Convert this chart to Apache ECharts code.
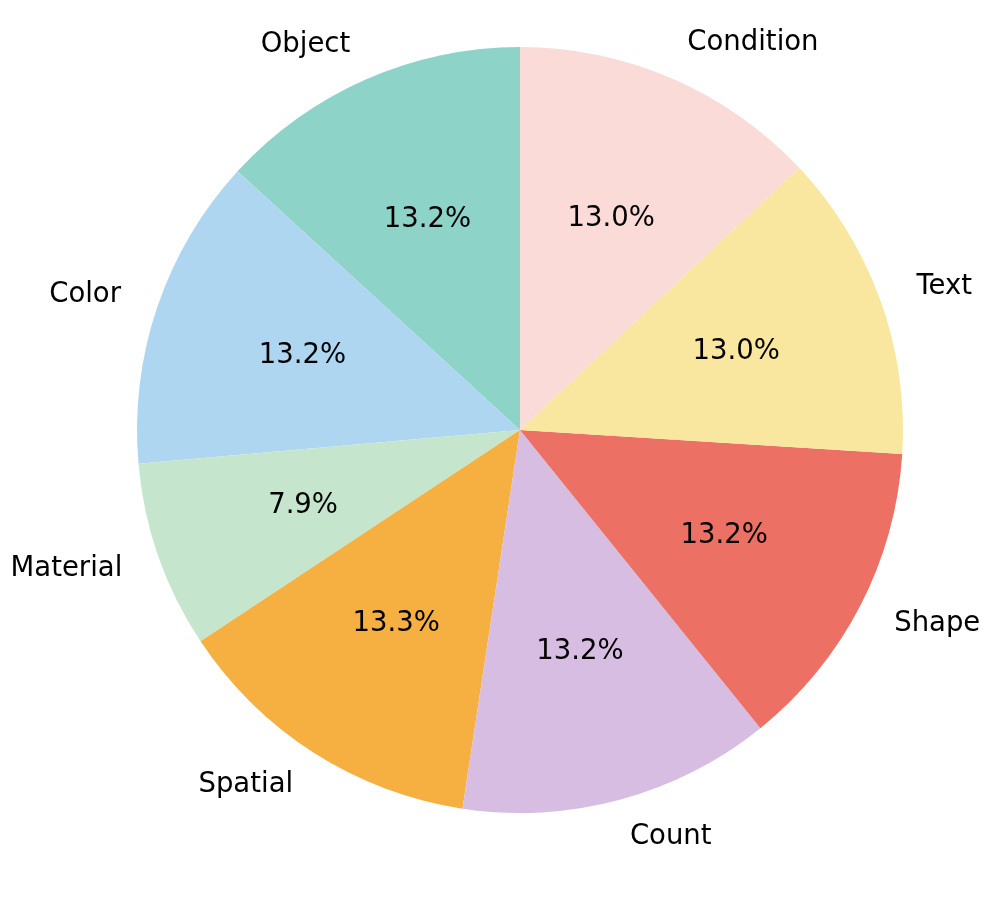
<!DOCTYPE html>
<html>
<head>
<meta charset="utf-8">
<script src="https://cdn.jsdelivr.net/npm/echarts@6/dist/echarts.min.js"></script>
<style>html,body{margin:0;padding:0;background:#fff}#c{width:1000px;height:900px}</style>
</head>
<body>
<div id="c"></div>
<script>
const categories = ['Object', 'Color', 'Material', 'Spatial', 'Count', 'Shape', 'Text', 'Condition'];
const values = [13.2, 13.2, 7.9, 13.3, 13.2, 13.2, 13.0, 13.0];
const colors = ['#8dd3c7', '#aed6f1', '#c5e6cd', '#f5b041', '#d7bde2', '#ec7063', '#f9e79f', '#fadbd8'];

const R = 383;
const font = 'DejaVu Sans';
const fs = 27.5;

const mainData = categories.map((c, i) => ({ name: c, value: values[i], itemStyle: { color: colors[i] } }));
const pctData = categories.map((c, i) => ({ name: c, value: values[i] }));

const chart = echarts.init(document.getElementById('c'), null, { renderer: 'canvas' });
chart.setOption({
  animation: false,
  backgroundColor: '#ffffff',
  series: [
    {
      type: 'pie',
      center: [520, 430],
      radius: [0, R],
      startAngle: 90,
      clockwise: false,
      avoidLabelOverlap: false,
      silent: true,
      itemStyle: { borderWidth: 0 },
      label: {
        show: true,
        position: 'outside',
        color: '#000',
        fontFamily: font,
        fontSize: fs,
        overflow: 'none',
        bleedMargin: 0,
        distanceToLabelLine: 0,
        verticalAlign: 'middle'
      },
      labelLine: { show: false, length: R * 0.1, length2: 0 },
      data: mainData
    },
    {
      type: 'pie',
      center: [520, 430],
      radius: [0, (R * 0.6 - 3) * 2],
      startAngle: 90,
      clockwise: false,
      avoidLabelOverlap: false,
      silent: true,
      z: 5,
      itemStyle: { color: 'rgba(0,0,0,0)', borderWidth: 0 },
      label: {
        show: true,
        position: 'inside',
        color: '#000',
        fontFamily: font,
        fontSize: fs,
        formatter: p => p.value.toFixed(1) + '%'
      },
      labelLine: { show: false },
      data: pctData
    }
  ]
});
</script>
</body>
</html>
